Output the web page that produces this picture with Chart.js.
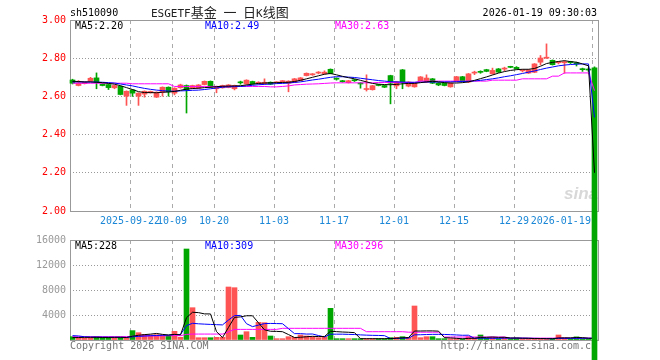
<!DOCTYPE html>
<html>
<head>
<meta charset="utf-8">
<script src="https://cdn.jsdelivr.net/npm/chart.js@4.4.1/dist/chart.umd.min.js"></script>
<style>
  body { margin: 0; background: #fff; }
  #wrap { position: relative; width: 660px; height: 360px; overflow: hidden;
          font-family: "DejaVu Sans Mono", monospace; font-size: 10px; }
  #wrap canvas { position: absolute; left: 0; top: 0; }
  .t { position: absolute; white-space: pre; line-height: 12px; }
  .cjk { font-family: "Noto Sans CJK SC", sans-serif; font-size: 13px; }
</style>
</head>
<body>
<div id="wrap">
  <canvas id="volChart" width="660" height="360" style="z-index:1"></canvas>
  <div class="t" style="left:70px; top:340px; color:#777; z-index:2">Copyright 2026 SINA.COM</div>
  <div class="t" style="right:63px; top:340px; color:#777; z-index:2">http://finance.sina.com.cn</div>
  <div class="t" style="left:564px; top:184px; z-index:2; color:#d8d8d8; font:italic bold 17px 'Liberation Sans', sans-serif;">sina</div>
  <canvas id="klineChart" width="660" height="360" style="z-index:3"></canvas>

  <div class="t" style="left:70px; top:7px; color:#000; z-index:4">sh510090</div>
  <div class="t" style="left:151px; top:4px; color:#222; z-index:4; font-size:11px; line-height:16px">ESGETF<span class="cjk">基金</span> <span class="cjk">一</span> <span class="cjk">日</span>K<span class="cjk">线图</span></div>
  <div class="t" style="right:63px; top:7px; color:#000; z-index:4">2026-01-19 09:30:03</div>

  <div class="t" style="left:75px; top:20px; color:#000; z-index:4">MA5:2.20</div>
  <div class="t" style="left:205px; top:20px; color:#0000ff; z-index:4">MA10:2.49</div>
  <div class="t" style="left:335px; top:20px; color:#ff00ff; z-index:4">MA30:2.63</div>

  <div class="t" style="left:75px; top:240px; color:#000; z-index:4">MA5:228</div>
  <div class="t" style="left:205px; top:240px; color:#0000ff; z-index:4">MA10:309</div>
  <div class="t" style="left:335px; top:240px; color:#ff00ff; z-index:4">MA30:296</div>
</div>

<script>
// trading days shown (one candle each)
const dates = [
  "2025-09-08", "2025-09-09", "2025-09-10", "2025-09-11", "2025-09-12", "2025-09-15", "2025-09-16", "2025-09-17", "2025-09-18", "2025-09-19",
  "2025-09-22", "2025-09-23", "2025-09-24", "2025-09-25", "2025-09-26", "2025-09-29", "2025-09-30", "2025-10-09", "2025-10-10", "2025-10-13",
  "2025-10-14", "2025-10-15", "2025-10-16", "2025-10-17", "2025-10-20", "2025-10-21", "2025-10-22", "2025-10-23", "2025-10-24", "2025-10-27",
  "2025-10-28", "2025-10-29", "2025-10-30", "2025-10-31", "2025-11-03", "2025-11-04", "2025-11-05", "2025-11-06", "2025-11-07", "2025-11-10",
  "2025-11-11", "2025-11-12", "2025-11-13", "2025-11-14", "2025-11-17", "2025-11-18", "2025-11-19", "2025-11-20", "2025-11-21", "2025-11-24",
  "2025-11-25", "2025-11-26", "2025-11-27", "2025-11-28", "2025-12-01", "2025-12-02", "2025-12-03", "2025-12-04", "2025-12-05", "2025-12-08",
  "2025-12-09", "2025-12-10", "2025-12-11", "2025-12-12", "2025-12-15", "2025-12-16", "2025-12-17", "2025-12-18", "2025-12-19", "2025-12-22",
  "2025-12-23", "2025-12-24", "2025-12-25", "2025-12-26", "2025-12-29", "2025-12-30", "2025-12-31", "2026-01-05", "2026-01-06", "2026-01-07",
  "2026-01-08", "2026-01-09", "2026-01-12", "2026-01-13", "2026-01-14", "2026-01-15", "2026-01-16", "2026-01-19",
];

const openPrices = [
  2.686, 2.657, 2.667, 2.679, 2.697, 2.665, 2.662, 2.645, 2.653, 2.601,
  2.634, 2.601, 2.612, 2.619, 2.596, 2.622, 2.648, 2.617, 2.645, 2.657,
  2.643, 2.643, 2.662, 2.679, 2.640, 2.645, 2.647, 2.640, 2.673, 2.665,
  2.678, 2.666, 2.666, 2.674, 2.671, 2.677, 2.669, 2.674, 2.683, 2.709,
  2.713, 2.722, 2.718, 2.742, 2.692, 2.679, 2.672, 2.684, 2.668, 2.636,
  2.635, 2.661, 2.657, 2.709, 2.655, 2.739, 2.654, 2.650, 2.681, 2.675,
  2.692, 2.669, 2.669, 2.650, 2.678, 2.703, 2.675, 2.722, 2.728, 2.740,
  2.718, 2.744, 2.743, 2.754, 2.752, 2.734, 2.722, 2.726, 2.779, 2.800,
  2.789, 2.776, 2.776, 2.780, 2.776, 2.742, 2.742, 2.750,
];
const highPrices = [
  2.690, 2.683, 2.676, 2.700, 2.723, 2.667, 2.664, 2.659, 2.655, 2.629,
  2.636, 2.619, 2.629, 2.628, 2.624, 2.650, 2.650, 2.645, 2.664, 2.660,
  2.659, 2.662, 2.681, 2.681, 2.654, 2.659, 2.662, 2.659, 2.680, 2.687,
  2.680, 2.677, 2.692, 2.676, 2.677, 2.683, 2.682, 2.694, 2.699, 2.723,
  2.720, 2.730, 2.734, 2.744, 2.697, 2.684, 2.684, 2.689, 2.672, 2.713,
  2.658, 2.663, 2.659, 2.711, 2.679, 2.741, 2.677, 2.672, 2.704, 2.713,
  2.694, 2.672, 2.671, 2.671, 2.705, 2.705, 2.720, 2.732, 2.734, 2.742,
  2.748, 2.746, 2.753, 2.758, 2.756, 2.740, 2.741, 2.772, 2.814, 2.875,
  2.791, 2.782, 2.786, 2.784, 2.779, 2.748, 2.749, 2.755,
];
const lowPrices = [
  2.665, 2.655, 2.665, 2.678, 2.640, 2.655, 2.636, 2.640, 2.608, 2.553,
  2.600, 2.553, 2.596, 2.617, 2.594, 2.601, 2.601, 2.608, 2.643, 2.513,
  2.641, 2.641, 2.660, 2.646, 2.619, 2.643, 2.645, 2.634, 2.664, 2.663,
  2.664, 2.664, 2.664, 2.662, 2.669, 2.673, 2.624, 2.672, 2.681, 2.707,
  2.710, 2.718, 2.716, 2.718, 2.685, 2.674, 2.670, 2.678, 2.643, 2.628,
  2.633, 2.655, 2.646, 2.561, 2.640, 2.640, 2.650, 2.648, 2.679, 2.672,
  2.667, 2.656, 2.655, 2.648, 2.676, 2.676, 2.672, 2.714, 2.721, 2.729,
  2.716, 2.725, 2.734, 2.750, 2.743, 2.728, 2.720, 2.724, 2.765, 2.799,
  2.764, 2.770, 2.721, 2.772, 2.759, 2.731, 2.731, 0,
];
const closePrices = [
  2.669, 2.671, 2.674, 2.695, 2.674, 2.657, 2.646, 2.657, 2.610, 2.627,
  2.617, 2.617, 2.627, 2.626, 2.622, 2.648, 2.624, 2.643, 2.660, 2.634,
  2.657, 2.660, 2.679, 2.648, 2.652, 2.657, 2.660, 2.657, 2.671, 2.685,
  2.666, 2.674, 2.674, 2.664, 2.674, 2.679, 2.680, 2.692, 2.697, 2.721,
  2.715, 2.724, 2.727, 2.720, 2.690, 2.677, 2.682, 2.682, 2.665, 2.640,
  2.656, 2.657, 2.648, 2.669, 2.677, 2.675, 2.675, 2.670, 2.702, 2.696,
  2.669, 2.660, 2.657, 2.669, 2.703, 2.678, 2.718, 2.724, 2.726, 2.731,
  2.736, 2.727, 2.746, 2.752, 2.745, 2.736, 2.739, 2.770, 2.801, 2.802,
  2.766, 2.778, 2.781, 2.777, 2.770, 2.740, 2.738, 0,
];

// moving averages as drawn in the picture
const ma5 = [
  2.679, 2.678, 2.676, 2.676, 2.674, 2.672, 2.668, 2.664, 2.656, 2.646,
  2.636, 2.625, 2.620, 2.620, 2.619, 2.622, 2.623, 2.626, 2.632, 2.638,
  2.641, 2.643, 2.646, 2.648, 2.651, 2.653, 2.654, 2.655, 2.656, 2.660,
  2.664, 2.668, 2.670, 2.671, 2.672, 2.673, 2.674, 2.678, 2.684, 2.692,
  2.700, 2.708, 2.716, 2.720, 2.713, 2.705, 2.698, 2.692, 2.684, 2.676,
  2.668, 2.664, 2.662, 2.661, 2.663, 2.666, 2.668, 2.668, 2.672, 2.676,
  2.679, 2.676, 2.672, 2.670, 2.670, 2.672, 2.676, 2.684, 2.693, 2.702,
  2.712, 2.722, 2.730, 2.736, 2.740, 2.742, 2.742, 2.746, 2.758, 2.772,
  2.778, 2.783, 2.787, 2.782, 2.779, 2.770, 2.760, 2.200,
];
const ma10 = [
  2.676, 2.676, 2.675, 2.675, 2.675, 2.674, 2.672, 2.670, 2.665, 2.660,
  2.655, 2.648, 2.642, 2.637, 2.633, 2.630, 2.628, 2.627, 2.629, 2.630,
  2.632, 2.633, 2.636, 2.640, 2.644, 2.648, 2.650, 2.651, 2.652, 2.655,
  2.658, 2.661, 2.663, 2.665, 2.667, 2.668, 2.670, 2.673, 2.676, 2.681,
  2.686, 2.690, 2.695, 2.700, 2.703, 2.703, 2.701, 2.699, 2.695, 2.691,
  2.687, 2.683, 2.680, 2.677, 2.676, 2.675, 2.674, 2.674, 2.674, 2.675,
  2.675, 2.675, 2.676, 2.676, 2.677, 2.678, 2.679, 2.681, 2.684, 2.688,
  2.692, 2.697, 2.703, 2.708, 2.714, 2.720, 2.727, 2.733, 2.741, 2.748,
  2.754, 2.760, 2.764, 2.767, 2.769, 2.770, 2.770, 2.490,
];
const ma30 = [
  2.669, 2.669, 2.669, 2.669, 2.669, 2.669, 2.669, 2.669, 2.669, 2.669,
  2.666, 2.666, 2.666, 2.666, 2.666, 2.666, 2.666, 2.652, 2.652, 2.652,
  2.652, 2.652, 2.652, 2.652, 2.652, 2.652, 2.652, 2.652, 2.652, 2.652,
  2.652, 2.652, 2.652, 2.650, 2.650, 2.652, 2.655, 2.660, 2.662, 2.664,
  2.665, 2.666, 2.668, 2.670, 2.671, 2.671, 2.671, 2.671, 2.671, 2.671,
  2.671, 2.673, 2.673, 2.673, 2.673, 2.673, 2.673, 2.673, 2.680, 2.680,
  2.680, 2.680, 2.680, 2.680, 2.680, 2.680, 2.680, 2.680, 2.680, 2.680,
  2.685, 2.685, 2.685, 2.685, 2.685, 2.692, 2.692, 2.692, 2.692, 2.692,
  2.706, 2.706, 2.723, 2.723, 2.723, 2.723, 2.723, 2.630,
];

const volumes = [
  530, 430, 270, 370, 530, 430, 430, 370, 430, 320,
  1500, 1170, 900, 800, 850, 800, 640, 1390, 430, 14560,
  5170, 370, 370, 370, 430, 430, 8480, 8370, 800, 1330,
  430, 2830, 2770, 640, 210, 210, 530, 430, 800, 640,
  530, 370, 530, 5070, 210, 210, 210, 210, 210, 210,
  210, 210, 210, 370, 430, 530, 430, 5440, 370, 530,
  530, 210, 210, 210, 210, 160, 530, 320, 800, 320,
  430, 210, 430, 210, 320, 210, 210, 210, 210, 210,
  210, 800, 320, 210, 500, 250, 180, 0,
];
const volMa5 = [
  380, 400, 420, 430, 430, 410, 410, 430, 440, 400,
  610, 760, 860, 940, 1050, 900, 800, 900, 820, 3570,
  4440, 4380, 4180, 4170, 1340, 390, 2020, 3620, 3700, 3880,
  3880, 2750, 1630, 1400, 1380, 1330, 870, 400, 440, 520,
  590, 550, 570, 1400, 1340, 1280, 1240, 1180, 210, 210,
  210, 210, 210, 240, 290, 350, 390, 1440, 1440, 1460,
  1460, 1420, 370, 340, 270, 200, 260, 290, 410, 430,
  480, 420, 440, 320, 320, 280, 280, 230, 230, 210,
  210, 330, 350, 350, 400, 380, 290, 228,
];
const volMa10 = [
  700, 650, 520, 480, 470, 460, 450, 440, 430, 411,
  508, 582, 645, 688, 720, 757, 778, 880, 880, 2304,
  2671, 2591, 2538, 2495, 2453, 2416, 3200, 3898, 3935, 2612,
  2138, 2384, 2624, 2651, 2629, 2607, 1812, 1018, 1018, 949,
  959, 713, 489, 932, 932, 932, 900, 878, 819, 776,
  744, 728, 696, 226, 248, 280, 302, 825, 841, 873,
  905, 905, 889, 852, 809, 756, 766, 254, 297, 276,
  266, 266, 288, 288, 299, 304, 272, 261, 239, 228,
  206, 265, 254, 254, 272, 276, 273, 309,
];
const volMa30 = [
  530, 530, 530, 530, 530, 530, 530, 530, 530, 540,
  600, 620, 640, 650, 660, 670, 680, 700, 700, 900,
  950, 950, 950, 950, 950, 950, 1300, 1700, 1700, 1700,
  1700, 1700, 1700, 1700, 1700, 1870, 1870, 1870, 1870, 1870,
  1870, 1870, 1870, 1870, 1870, 1870, 1870, 1870, 1870, 1330,
  1330, 1330, 1330, 1330, 1330, 1330, 1250, 1250, 1250, 1250,
  1250, 1250, 480, 480, 480, 480, 480, 480, 480, 480,
  480, 480, 480, 300, 300, 300, 300, 300, 300, 300,
  300, 300, 300, 300, 300, 300, 300, 296,
];

// date axis labels
const tickDates = ["2025-09-22", "2025-10-09", "2025-10-20", "2025-11-03", "2025-11-17", "2025-12-01", "2025-12-15", "2025-12-29", "2026-01-19"];
const tickLabels = ["2025-09-22", "10-09", "10-20", "11-03", "11-17", "12-01", "12-15", "12-29", "2026-01-19"];

const RED = "#ff5454";
const GREEN = "#00a600";
const MONO = "'DejaVu Sans Mono', monospace";
const SLOT = 2.5 / 6; // candle sits in the left 5px of each 6px slot

Chart.defaults.font.family = MONO;
Chart.defaults.font.size = 10;

const upDown = closePrices.map((c, i) => (c >= openPrices[i] ? RED : GREEN));
const at = (arr) => arr.map((v, i) => ({ x: i + SLOT, y: v }));

function dateTicks(scale) {
  const ticks = tickDates.map((d, k) => ({ value: dates.indexOf(d), text: tickLabels[k] }));
  // the last date is written left of its grid line so it stays inside the frame
  const last = ticks[ticks.length - 1];
  ticks.push({ value: last.value - 5.2, text: last.text, noGrid: true });
  last.text = "";
  scale.ticks = ticks;
}

const frame = {
  id: "frame",
  beforeDatasetsDraw(chart) {
    const { ctx, chartArea: a } = chart;
    ctx.save();
    ctx.strokeStyle = "#999";
    ctx.lineWidth = 1;
    ctx.strokeRect(a.left + 0.5, a.top + 0.5, a.right - a.left, a.bottom - a.top);
    ctx.restore();
  },
};

function xAxis(showLabels, height) {
  return {
    type: "linear",
    min: 0,
    max: dates.length,
    offset: false,
    afterBuildTicks: dateTicks,
    afterFit: (s) => { s.height = height; },
    ticks: {
      display: showLabels,
      autoSkip: false,
      maxRotation: 0,
      padding: 4,
      color: "#1b87d6",
      callback: (v, i, ticks) => ticks[i].text,
    },
    grid: {
      offset: false,
      drawTicks: false,
      color: (c) => (c.tick && c.tick.noGrid ? "rgba(0,0,0,0)" : "#aaa"),
    },
    border: { display: false, dash: [4, 4] },
  };
}

function maLine(arr, color) {
  return {
    type: "line",
    data: at(arr),
    borderColor: color,
    borderWidth: 1,
    pointRadius: 0,
    tension: 0,
  };
}

new Chart(document.getElementById("klineChart"), {
  type: "bar",
  data: {
    datasets: [
      maLine(ma5, "#000"),
      maLine(ma10, "#0000ff"),
      maLine(ma30, "#ff00ff"),
      {
        // bodies
        data: openPrices.map((o, i) => ({ x: i + SLOT, y: [o, closePrices[i]] })),
        backgroundColor: upDown,
        barThickness: 5,
        minBarLength: 1,
        grouped: false,
        clip: false,
      },
      {
        // wicks
        data: lowPrices.map((l, i) => ({ x: i + SLOT, y: [l, highPrices[i]] })),
        backgroundColor: upDown,
        barThickness: 1,
        grouped: false,
        clip: false,
      },
    ],
  },
  options: {
    responsive: false,
    animation: false,
    layout: { padding: { top: 20, right: 62, bottom: 129, left: 0 } },
    plugins: { legend: { display: false }, tooltip: { enabled: false } },
    scales: {
      x: xAxis(true, 20),
      y: {
        min: 2,
        max: 3,
        afterFit: (s) => { s.width = 70; },
        ticks: {
          stepSize: 0.2,
          color: "#ff0000",
          padding: 4,
          callback: (v) => v.toFixed(2),
        },
        grid: { drawTicks: false, color: "#999" },
        border: { display: false, dash: [1, 2] },
      },
    },
  },
  plugins: [frame],
});

new Chart(document.getElementById("volChart"), {
  type: "bar",
  data: {
    datasets: [
      maLine(volMa5, "#000"),
      maLine(volMa10, "#0000ff"),
      maLine(volMa30, "#ff00ff"),
      {
        data: at(volumes),
        backgroundColor: upDown,
        barThickness: 5,
        grouped: false,
      },
    ],
  },
  options: {
    responsive: false,
    animation: false,
    layout: { padding: { top: 240, right: 62, bottom: 20, left: 0 } },
    plugins: { legend: { display: false }, tooltip: { enabled: false } },
    scales: {
      x: xAxis(false, 0),
      y: {
        min: 0,
        max: 16000,
        afterFit: (s) => { s.width = 70; },
        ticks: {
          stepSize: 4000,
          color: "#999",
          padding: 4,
          callback: (v) => (v === 0 ? "" : String(v)),
        },
        grid: { drawTicks: false, color: "#999" },
        border: { display: false, dash: [1, 2] },
      },
    },
  },
  plugins: [frame],
});
</script>
</body>
</html>
